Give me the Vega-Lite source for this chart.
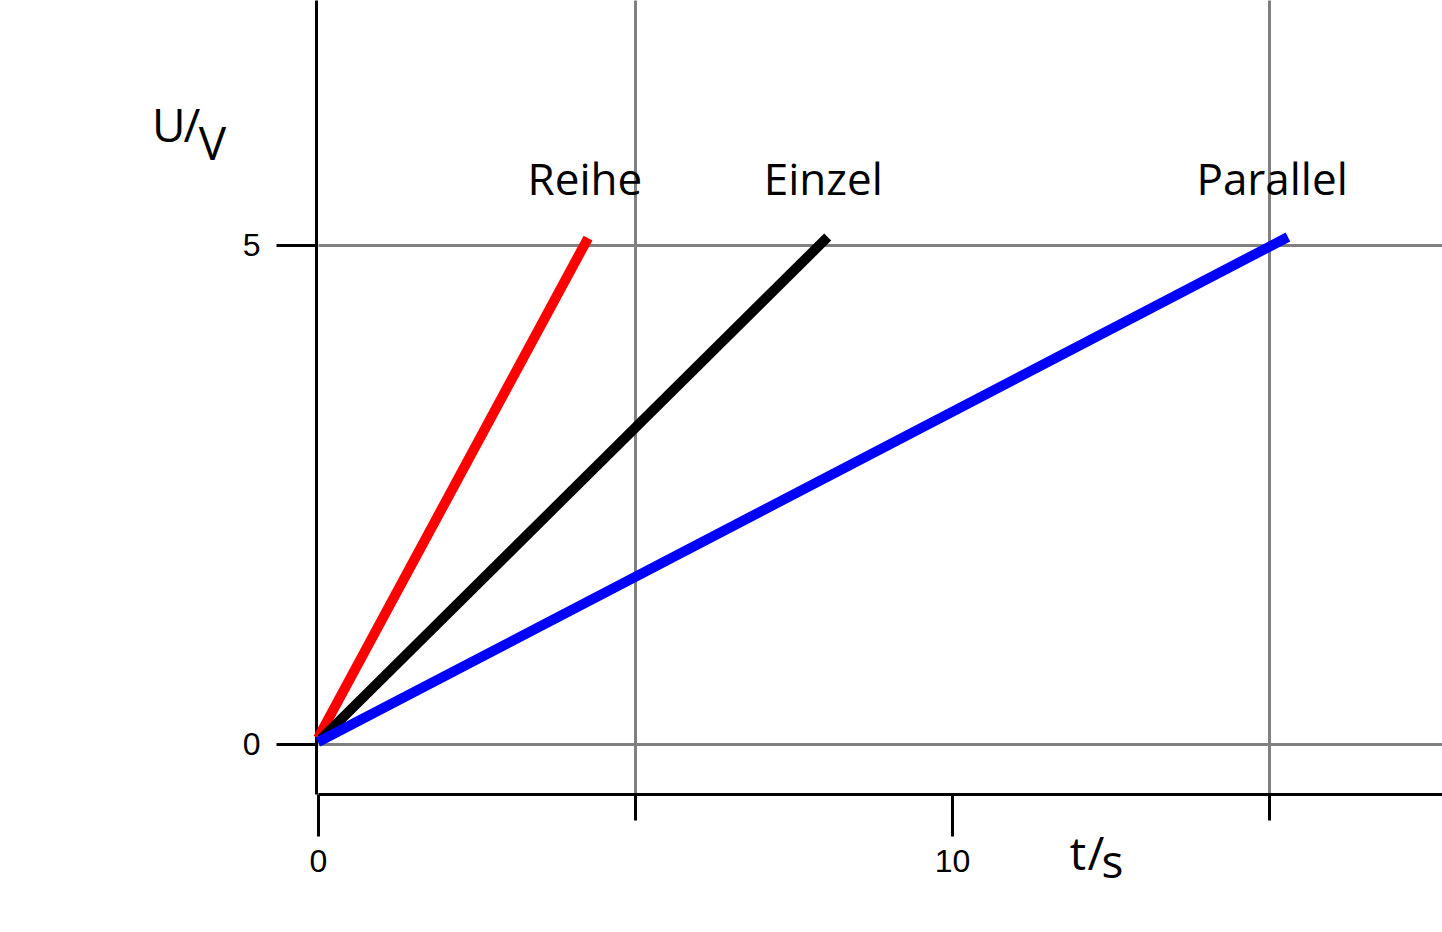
{
  "$schema": "https://vega.github.io/schema/vega-lite/v6.json",
  "width": 1124,
  "height": 794,
  "autosize": {"type": "none"},
  "padding": {"left": 318, "top": 0, "right": 0, "bottom": 138},
  "background": "white",
  "config": {"view": {"stroke": null}},
  "datasets": {
    "lines": [
      {"series": "Reihe", "t": 0, "u": 0.06},
      {"series": "Reihe", "t": 4.26, "u": 5.07},
      {"series": "Einzel", "t": 0.05, "u": 0.05},
      {"series": "Einzel", "t": 8.04, "u": 5.08},
      {"series": "Parallel", "t": 0, "u": 0.02},
      {"series": "Parallel", "t": 15.3, "u": 5.08}
    ],
    "labels": [
      {"text": "Reihe", "t": 4.21, "u": 5.5},
      {"text": "Einzel", "t": 7.97, "u": 5.5},
      {"text": "Parallel", "t": 15.05, "u": 5.5}
    ],
    "titles": [
      {"text": "U", "t": -2.62, "u": 6.03},
      {"text": "/", "t": -2.12, "u": 6.03},
      {"text": "V", "t": -1.88, "u": 5.85},
      {"text": "t", "t": 11.86, "u": -1.263},
      {"text": "/", "t": 12.14, "u": -1.263},
      {"text": "s", "t": 12.36, "u": -1.343}
    ]
  },
  "resolve": {"axis": {"x": "independent", "y": "independent"}},
  "layer": [
    {
      "data": {"name": "lines"},
      "mark": {"type": "line", "strokeWidth": 10, "strokeCap": "butt"},
      "encoding": {
        "x": {
          "field": "t",
          "type": "quantitative",
          "scale": {"domain": [0, 17.73], "nice": false, "zero": false},
          "axis": {
            "orient": "bottom",
            "values": [0, 10],
            "title": null,
            "grid": false,
            "domainColor": "black",
            "domainWidth": 3,
            "tickColor": "black",
            "tickWidth": 3,
            "tickSize": 42,
            "labelFont": "Liberation Sans",
            "labelFontSize": 32,
            "labelColor": "black",
            "labelPadding": 10,
            "labelFlush": false
          }
        },
        "y": {
          "field": "u",
          "type": "quantitative",
          "scale": {"domain": [-0.501, 7.455], "nice": false, "zero": false},
          "axis": {
            "orient": "left",
            "values": [0, 5],
            "title": null,
            "offset": 2,
            "grid": true,
            "gridColor": "#808080",
            "gridWidth": 3,
            "domainColor": "black",
            "domainWidth": 3,
            "tickColor": "black",
            "tickWidth": 3,
            "tickSize": 40,
            "labelFont": "Liberation Sans",
            "labelFontSize": 32,
            "labelColor": "black",
            "labelPadding": 16
          }
        },
        "color": {
          "field": "series",
          "type": "nominal",
          "scale": {"domain": ["Reihe", "Einzel", "Parallel"], "range": ["#ff0000", "#000000", "#0000ff"]},
          "legend": null
        }
      }
    },
    {
      "data": {"name": "labels"},
      "mark": {"type": "text", "font": "Open Sans", "fontSize": 44, "align": "center", "baseline": "alphabetic", "color": "black"},
      "encoding": {
        "x": {"field": "t", "type": "quantitative", "axis": {
            "orient": "bottom",
            "values": [5, 15],
            "title": null,
            "labels": false,
            "domain": false,
            "grid": true,
            "gridColor": "#808080",
            "gridWidth": 3,
            "tickColor": "black",
            "tickWidth": 3,
            "tickSize": 26
          }},
        "y": {"field": "u", "type": "quantitative", "axis": null},
        "text": {"field": "text"}
      }
    },
    {
      "data": {"name": "titles"},
      "mark": {"type": "text", "font": "Open Sans", "fontSize": 46, "align": "left", "baseline": "alphabetic", "color": "black"},
      "encoding": {
        "x": {"field": "t", "type": "quantitative", "axis": null},
        "y": {"field": "u", "type": "quantitative", "axis": null},
        "text": {"field": "text"}
      }
    }
  ]
}
